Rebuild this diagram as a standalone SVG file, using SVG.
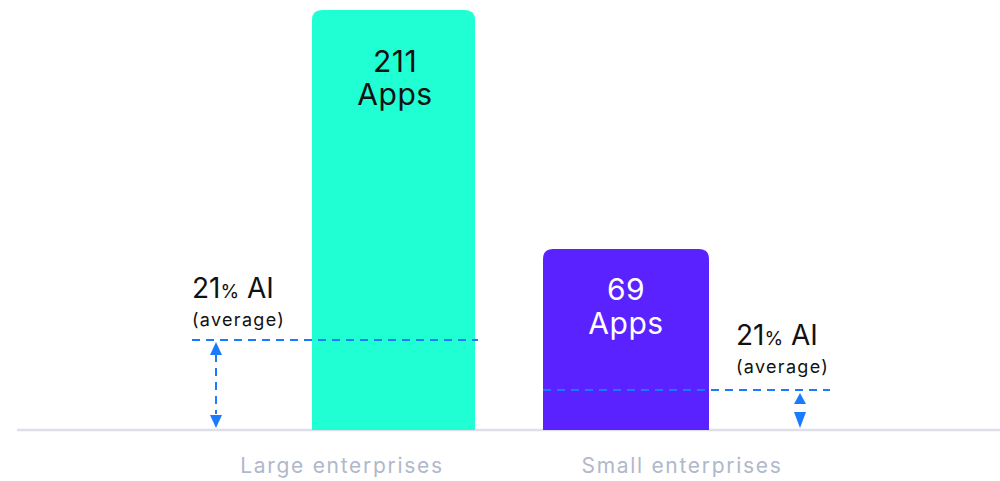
<svg xmlns="http://www.w3.org/2000/svg" width="1000" height="481" viewBox="0 0 1000 481">
<style>
.big{font-family:"Inter","Liberation Sans",sans-serif;font-size:30px;text-anchor:middle;letter-spacing:0.5px}
.ai{font-family:"Inter","Liberation Sans",sans-serif;font-size:28px;fill:#111}
.pct{font-size:19px}
.avg{font-family:"Inter","Liberation Sans",sans-serif;font-size:18px;fill:#111;letter-spacing:1.3px}
.cat{font-family:"Inter","Liberation Sans",sans-serif;font-size:21px;fill:#b0b8cb;text-anchor:middle;letter-spacing:1.7px}
.dash{stroke:#1a7bff;stroke-width:2;stroke-dasharray:8 6;fill:none}
.head{fill:#1a7bff}
</style>
<rect width="1000" height="481" fill="#fff"/>
<g id="axis"><line x1="17" y1="430" x2="1000" y2="430" stroke="#dde0e8" stroke-width="2.5"/></g>
<g id="bar-large">
<path d="M312 430 V20 Q312 10 322 10 H465 Q475 10 475 20 V430 Z" fill="#20ffd4"/>
<text class="big" x="395" y="72" fill="#111">211</text>
<text class="big" x="395" y="105" fill="#111">Apps</text>
</g>
<g id="bar-small">
<path d="M543 430 V259 Q543 249 553 249 H699 Q709 249 709 259 V430 Z" fill="#5a22ff"/>
<text class="big" x="626" y="300" fill="#fff">69</text>
<text class="big" x="626" y="334" fill="#fff">Apps</text>
</g>
<g id="label-large">
<text class="ai" x="192" y="298">21<tspan class="pct">%</tspan> AI</text>
<text class="avg" x="192" y="326">(average)</text>
</g>
<g id="label-small">
<text class="ai" x="736" y="345">21<tspan class="pct">%</tspan> AI</text>
<text class="avg" x="736" y="373">(average)</text>
</g>
<g id="connectors">
<line class="dash" x1="192" y1="340" x2="478" y2="340"/>
<line class="dash" x1="216" y1="354" x2="216" y2="414"/>
<polygon class="head" points="216,342 210,355 222,355"/>
<polygon class="head" points="216,428 210,415 222,415"/>
<line class="dash" x1="543" y1="390" x2="830" y2="390"/>
<polygon class="head" points="800,393 794,404 806,404"/>
<polygon class="head" points="800,428 794,412 806,412"/>
</g>
<g id="categories">
<text class="cat" x="342" y="473">Large enterprises</text>
<text class="cat" x="682" y="473">Small enterprises</text>
</g>
</svg>
